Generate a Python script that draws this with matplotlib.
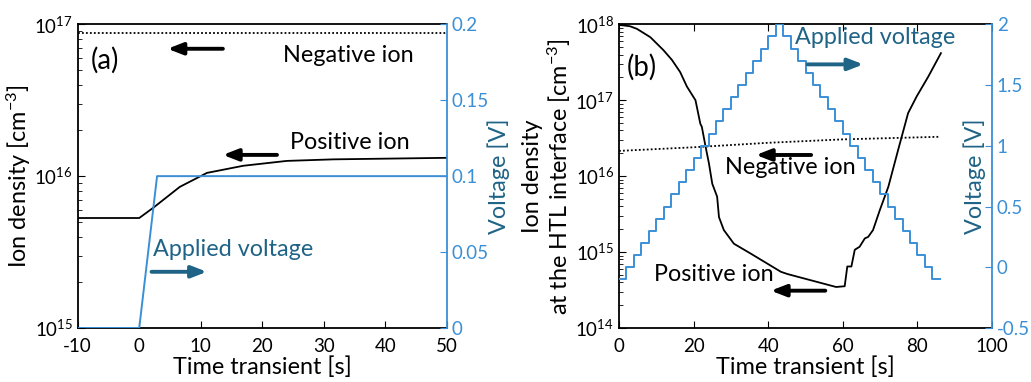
import matplotlib
matplotlib.use('Agg')
import matplotlib.pyplot as plt
import numpy as np

plt.rcParams['font.family'] = ['Lato', 'DejaVu Sans']
plt.rcParams['mathtext.fontset'] = 'custom'
plt.rcParams['mathtext.rm'] = 'Lato'
plt.rcParams['mathtext.it'] = 'Lato:italic'
plt.rcParams['axes.unicode_minus'] = False

BLUE = '#3a8fd6'
TEAL = '#1f6386'

# ---- panel (a) data ----
t_neg_a = [-10, 50]
neg_a = [8.7e16, 8.7e16]
t_pos_a = [-10, 0, 2.3, 6.6, 11, 16.9, 24, 31.6, 50]
pos_a = [5.3e15, 5.3e15, 6.2e15, 8.5e15, 1.05e16, 1.17e16, 1.26e16, 1.29e16, 1.32e16]
t_volt_a = [-10, 0, 2.9, 50]
volt_a = [0, 0, 0.1, 0.1]

# ---- panel (b) data ----
t_neg_b = [0, 20, 40, 60, 86]
neg_b = [2.15e16, 2.4e16, 2.75e16, 3.05e16, 3.3e16]
t_pos_b = [0, 0.3, 2.9, 4.8, 8.4, 11.9, 14.2, 16.4, 18.2, 20.5, 21.8, 22.2, 23.2,
           24.1, 25.0, 26.3, 26.8, 28.1, 30.8, 35.3, 43.4, 45.2, 58.2, 60.5, 61.2,
           62.3, 63.2, 64.5, 65.9, 66.8, 68.1, 69.9, 72.2, 74.8, 77.5, 79.8, 82.9, 86.3]
log_pos_b = [18.0, 17.99, 17.975, 17.94, 17.83, 17.66, 17.53, 17.37, 17.18, 17.0, 16.69,
             16.65, 16.39, 16.17, 15.90, 15.73, 15.46, 15.29, 15.11, 14.98, 14.74, 14.71,
             14.54, 14.55, 14.81, 14.81, 15.03, 15.07, 15.18, 15.2, 15.29, 15.55, 15.86,
             16.34, 16.83, 17.05, 17.31, 17.62]
pos_b = [10 ** v for v in log_pos_b]
t_volt_b = [0, 2, 4, 6, 8, 10, 12, 14, 16, 18, 20, 22, 24, 26, 28, 30, 32, 34, 36, 38, 40, 42,
            44, 46, 48, 50, 52, 54, 56, 58, 60, 62, 64, 66, 68, 70, 72, 74, 76, 78, 80, 82, 84, 86]
volt_b = [-0.1, 0.0, 0.1, 0.2, 0.3, 0.4, 0.5, 0.6, 0.7, 0.8, 0.9, 1.0, 1.1, 1.2, 1.3, 1.4,
          1.5, 1.6, 1.7, 1.8, 1.9, 2.0,
          1.9, 1.8, 1.7, 1.6, 1.5, 1.4, 1.3, 1.2, 1.1, 1.0, 0.9, 0.8, 0.7, 0.6, 0.5, 0.4,
          0.3, 0.2, 0.1, 0.0, -0.1, -0.1]

TICK = 13.5
LAB = 16.8

fig = plt.figure(figsize=(10.31, 3.82), dpi=100)


def style(ax, ax2, top_ticks):
    ax.tick_params(axis='both', which='both', direction='in', labelsize=TICK, top=top_ticks)
    ax.tick_params(axis='both', which='major', length=5)
    ax.tick_params(axis='y', which='minor', length=3)
    ax.tick_params(axis='x', pad=7)
    ax.spines['right'].set_visible(False)
    for s in ['top', 'bottom', 'left']:
        ax2.spines[s].set_visible(False)
    ax2.spines['right'].set_color(BLUE)
    ax2.spines['right'].set_linewidth(1.3)
    ax2.tick_params(axis='y', direction='in', colors=BLUE, labelsize=TICK, length=5)
    for s in ['top', 'bottom', 'left']:
        ax.spines[s].set_linewidth(1.3)


def arrow(ax, x0, x1, y, color):
    ax.annotate('', xy=(x1, y), xytext=(x0, y),
                arrowprops=dict(arrowstyle='-|>,head_length=0.9,head_width=0.35',
                                color=color, lw=2.8, shrinkA=0, shrinkB=0))


# ---------------- (a) ----------------
axa = fig.add_axes([0.0754, 0.1414, 0.3579, 0.795])
axa2 = axa.twinx()
axa.set_yscale('log')
axa.plot(t_neg_a, neg_a, color='black', lw=1.3, ls=(0, (1, 1.2)))
axa.plot(t_pos_a, pos_a, color='black', lw=1.3)
axa2.plot(t_volt_a, volt_a, color=BLUE, lw=1.4)
axa.set_xlim(-10, 50)
axa.set_ylim(1e15, 1e17)
axa2.set_ylim(0, 0.2)
axa.set_xticks([-10, 0, 10, 20, 30, 40, 50])
axa2.set_yticks([0, 0.05, 0.1, 0.15, 0.2])
axa2.set_yticklabels(['0', '0.05', '0.1', '0.15', '0.2'])
style(axa, axa2, False)
axa.set_xlabel('Time transient [s]', fontsize=LAB, labelpad=1)
axa.set_ylabel('Ion density [cm$^{-3}$]', fontsize=LAB)
axa.yaxis.set_label_coords(-0.122, 0.5)
axa2.set_ylabel('Voltage [V]', fontsize=LAB, color=TEAL)
axa2.yaxis.set_label_coords(1.111, 0.5)

axa.text(-7.9, 5.8e16, '(a)', fontsize=LAB + 3, va='center', ha='left')
axa.text(23.3, 6.2e16, 'Negative ion', fontsize=LAB, va='center', ha='left')
arrow(axa, 13.6, 4.6, 6.9e16, 'black')
axa.text(24.5, 1.66e16, 'Positive ion', fontsize=LAB, va='center', ha='left')
arrow(axa, 22.4, 13.6, 1.38e16, 'black')
axa2.text(2.2, 0.052, 'Applied voltage', fontsize=LAB, va='center', ha='left', color=TEAL)
arrow(axa2, 2.0, 11.0, 0.037, TEAL)

# ---------------- (b) ----------------
axb = fig.add_axes([0.6004, 0.1414, 0.3618, 0.795])
axb2 = axb.twinx()
axb.set_yscale('log')
axb.plot(t_neg_b, neg_b, color='black', lw=1.3, ls=(0, (1, 1.2)))
axb.plot(t_pos_b, pos_b, color='black', lw=1.3)
axb2.step(t_volt_b, volt_b, where='post', color=BLUE, lw=1.4)
axb.set_xlim(0, 100)
axb.set_ylim(1e14, 1e18)
axb2.set_ylim(-0.5, 2)
axb.set_xticks([0, 20, 40, 60, 80, 100])
axb2.set_yticks([-0.5, 0, 0.5, 1, 1.5, 2])
axb2.set_yticklabels(['-0.5', '0', '0.5', '1', '1.5', '2'])
style(axb, axb2, True)
axb.set_xlabel('Time transient [s]', fontsize=LAB, labelpad=1)
axb.set_ylabel('Ion density\nat the HTL interface [cm$^{-3}$]', fontsize=LAB, linespacing=1.1)
axb.yaxis.set_label_coords(-0.124, 0.5)
axb2.set_ylabel('Voltage [V]', fontsize=LAB, color=TEAL)
axb2.yaxis.set_label_coords(0.922, 0.5)

axb.text(2.1, 2.75e17, '(b)', fontsize=LAB + 3, va='center', ha='left')
axb2.text(47.2, 1.89, 'Applied voltage', fontsize=LAB, va='center', ha='left', color=TEAL)
arrow(axb2, 50.6, 65.5, 1.67, TEAL)
axb.text(28.3, 1.29e16, 'Negative ion', fontsize=LAB, va='center', ha='left')
arrow(axb, 51.5, 36.7, 1.9e16, 'black')
axb.text(9.4, 5.1e14, 'Positive ion', fontsize=LAB, va='center', ha='left')
arrow(axb, 55.3, 40.7, 3.1e14, 'black')

fig.savefig('out.png', dpi=100)
